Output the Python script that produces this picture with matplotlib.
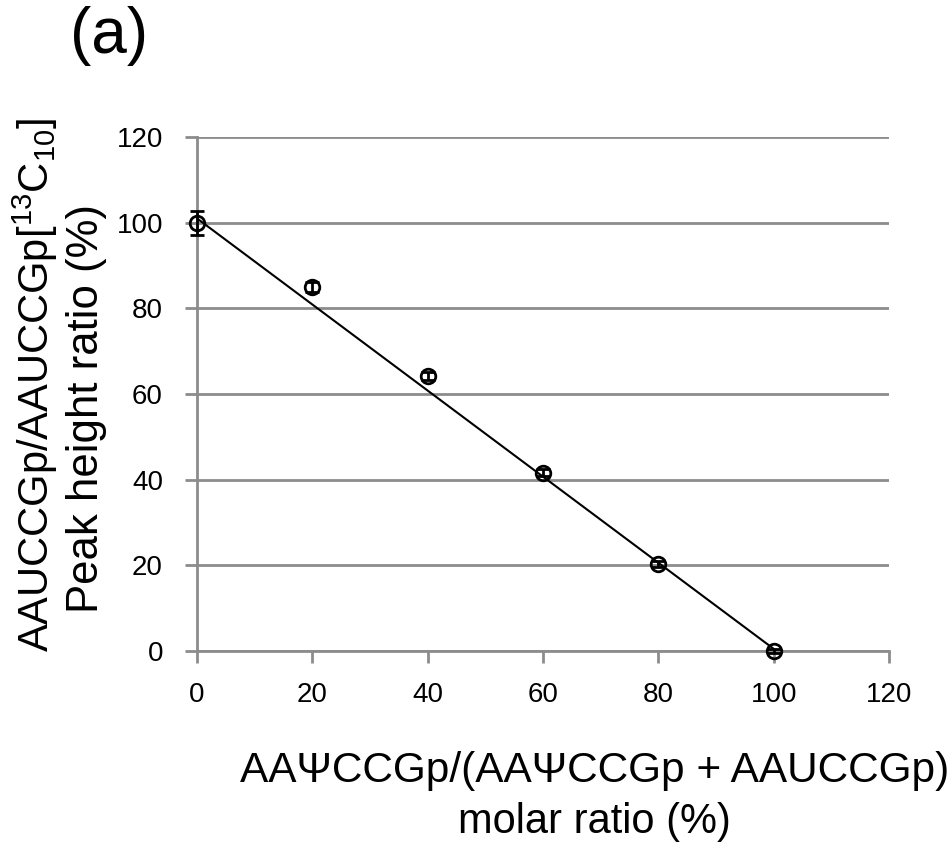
import matplotlib
matplotlib.use("Agg")
import matplotlib.pyplot as plt
import numpy as np

plt.rcParams['font.family'] = ['Liberation Sans', 'DejaVu Sans']
plt.rcParams['mathtext.fontset'] = 'custom'
plt.rcParams['mathtext.rm'] = 'Liberation Sans'
plt.rcParams['mathtext.it'] = 'Liberation Sans'

molar_ratio = [0, 20, 40, 60, 80, 100]
peak_ratio = [100.0, 85.0, 64.2, 41.6, 20.3, 0.0]
peak_err = [2.8, 1.1, 1.0, 0.8, 0.8, 0.5]
# linear trendline
trend_slope = -1.005
trend_intercept = 101.0
x_ticks = [0, 20, 40, 60, 80, 100, 120]
y_ticks = [0, 20, 40, 60, 80, 100, 120]

grid_col = '#8c8c8c'

fig = plt.figure(figsize=(9.53, 8.52), dpi=100)
ax = fig.add_axes([0.2067, 0.2359, 0.7262, 0.6033])

ax.set_xlim(0, 120)
ax.set_ylim(0, 120)
ax.set_xticks(x_ticks)
ax.set_yticks(y_ticks)
ax.set_xticklabels([str(v) for v in x_ticks], fontsize=20)
ax.set_yticklabels([str(v) for v in y_ticks], fontsize=20)
ax.yaxis.grid(True, color=grid_col, linewidth=2)
ax.set_axisbelow(True)
for s in ['top', 'right']:
    ax.spines[s].set_visible(False)
for s in ['left', 'bottom']:
    ax.spines[s].set_color(grid_col)
    ax.spines[s].set_linewidth(2)
ax.tick_params(axis='both', direction='out', length=8.5, width=2, color=grid_col)
ax.tick_params(axis='y', pad=16)
ax.tick_params(axis='x', pad=14)

xl = np.array([molar_ratio[0], molar_ratio[-1]], dtype=float)
ax.plot(xl, trend_intercept + trend_slope * xl, color='black', linewidth=1.5, zorder=3)

ax.errorbar(molar_ratio, peak_ratio, yerr=peak_err, fmt='o', ms=10.5, mfc='none',
            mec='black', mew=2.0, ecolor='black', elinewidth=2, capsize=4.8, capthick=2,
            zorder=4, clip_on=False)

fig.text(0.073, 0.993, '(a)', fontsize=46, va='top', ha='left')

fig.text(0.037, 0.548, 'AAUCCGp/AAUCCGp[$^{13}$C$_{10}$]', rotation=90,
         fontsize=30, ha='center', va='center')
fig.text(0.091, 0.521, 'Peak height ratio (%)', rotation=90,
         fontsize=31.5, ha='center', va='center')

fig.text(0.624, 0.095, 'AAΨCCGp/(AAΨCCGp + AAUCCGp)', fontsize=30.5, ha='center', va='center')
fig.text(0.624, 0.035, 'molar ratio (%)', fontsize=30, ha='center', va='center')

fig.savefig('out.png', dpi=100)
